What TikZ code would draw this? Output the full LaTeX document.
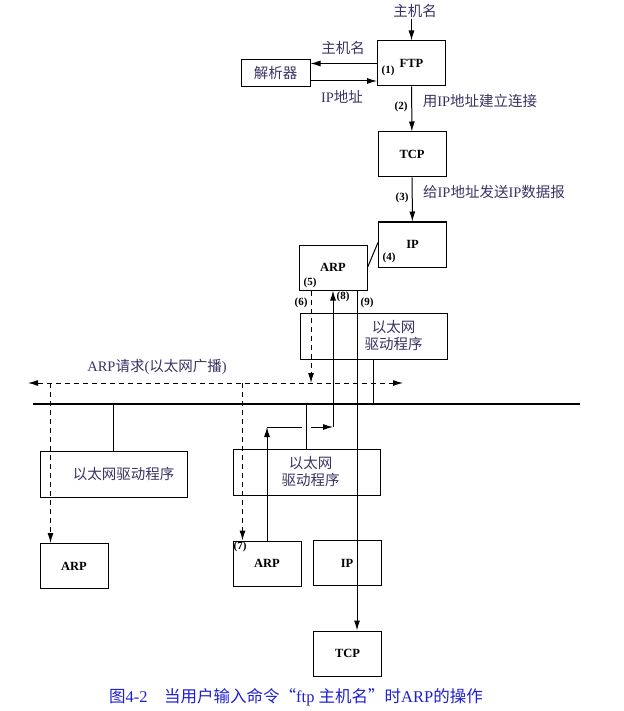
\documentclass[tikz,border=0pt]{standalone}
\usepackage{fontspec}
\setmainfont{Liberation Serif}
\newfontfamily\cjkfont{Noto Sans CJK SC}
\usepackage{tikz}
\usetikzlibrary{positioning,arrows.meta}
\newcommand{\zh}[1]{{\cjkfont #1}}
\definecolor{labelc}{RGB}{60,50,100}
\definecolor{capc}{RGB}{30,30,210}
\tikzset{
  box/.style={draw,line width=1pt,minimum width=68pt,minimum height=45pt,inner sep=0pt,
    font=\bfseries\fontsize{12.5}{14}\selectfont},
  drvbox/.style={box,minimum width=147pt,minimum height=46pt},
  lbl/.style={text=labelc,inner sep=1pt,align=center,font=\fontsize{14.5}{17}\selectfont},
  num/.style={inner sep=1pt,font=\bfseries\fontsize{11}{13}\selectfont},
  tip/.tip={Latex[length=10pt,width=6pt]},
  arr/.style={line width=1pt,-tip},
  dasharr/.style={arr,dash pattern=on 5pt off 4pt},
  bus/.style={line width=2.8pt}
}

\begin{document}
\begin{tikzpicture}[x=1pt,y=-1pt]
  \useasboundingbox (0,0) rectangle (623,711);

  % sending host
  \node[box] (ftp) at (411.5,63.5) {FTP};
  \node[box,minimum width=69pt,minimum height=27pt] (res) at (275.5,73.5) {};
  \node[lbl] at (res) {\zh{解析器}};
  \node[box] (tcpA) at (412,154.5) {TCP};
  \node[box] (ipA) at (412.5,244.5) {IP};
  \node[box] (arpA) at (333,267.5) {ARP};
  \node[drvbox] (drvA) at (373.5,336) {};
  \node[lbl] at ([xshift=20pt]drvA.center) {\zh{以太网}\\\zh{驱动程序}};

  % other hosts on the cable
  \node[drvbox] (drvB) at (113.5,474) {};
  \node[lbl] at ([xshift=10pt]drvB.center) {\zh{以太网驱动程序}};
  \node[box] (arpB) at (74,566) {ARP};
  \node[drvbox] (drvC) at (306.5,472) {};
  \node[lbl] at ([xshift=4pt]drvC.center) {\zh{以太网}\\\zh{驱动程序}};
  \node[box] (arpC) at (267,563.5) {ARP};
  \node[box] (ipC) at (347,563) {IP};
  \node[box] (tcpC) at (347.5,653.5) {TCP};

  \coordinate (busL) at (33,404);
  \coordinate (busR) at (580,404);
  \coordinate (bcL) at (28,383);
  \coordinate (bcR) at (403,383);
  \coordinate (rep) at (0,427);

  % FTP -> TCP -> IP
  \node[lbl] (host) at (415,11) {\zh{主机名}};
  \draw[arr] (host.south -| ftp) -- (ftp);
  \draw[arr] (ftp.west) -- (ftp.west -| res.east);
  \draw[arr] ([yshift=-7.5pt]res.east) -- ([yshift=-7.5pt]res.east -| ftp.west);
  \node[lbl] at (343,48) {\zh{主机名}};
  \node[lbl] at (342,97) {IP\zh{地址}};
  \node[num] at (388,71) {(1)};
  \draw[arr] (ftp) -- (tcpA);
  \node[num] at (401,107) {(2)};
  \node[lbl] at (480,101) {\zh{用}IP\zh{地址建立连接}};
  \draw[arr] (tcpA) -- (ipA);
  \node[num] at (402,198) {(3)};
  \node[lbl] at (494,192) {\zh{给}IP\zh{地址发送}IP\zh{数据报}};
  \node[num] at (389,258) {(4)};
  \draw[line width=1pt] (arpA.east) -- ([yshift=2pt]ipA.west);
  \node[num] at (310,283) {(5)};

  % cable
  \draw[bus] (busL) -- (busR);
  \draw[line width=1pt] (drvA.south) -- (drvA.south |- busL);
  \draw[line width=1pt] (drvB.north |- busL) -- (drvB.north);
  \draw[line width=1pt] (drvC.north |- busL) -- (drvC.north);

  % ARP request broadcast
  \draw[dasharr] ([xshift=-22pt]arpA.south) -- ([xshift=-22pt]arpA.south |- bcL);
  \node[num] at (301,303) {(6)};
  \draw[dasharr,tip-tip] (bcL) -- (bcR);
  \node[lbl] at (157,367) {ARP\zh{请求}(\zh{以太网广播})};
  \draw[dasharr] ([xshift=11pt]arpB.north west |- bcL) -- ([xshift=11pt]arpB.north west);
  \draw[dasharr] ([xshift=10pt]arpC.north west |- bcL) -- ([xshift=10pt]arpC.north west);
  \node[num,anchor=north west] at (arpC.north west) {(7)};

  % ARP reply
  \draw[arr] (arpC.north) -- (arpC.north |- rep);
  \draw[line width=1pt] (arpC.north |- rep) -- ([xshift=-4.5pt]drvC.north |- rep);
  \draw[arr] ([xshift=4.5pt]drvC.north |- rep) -- (arpA.south |- rep);
  \draw[arr] (arpA.south |- rep) -- (arpA.south);
  \node[num] at (343,297) {(8)};

  % IP datagram
  \draw[arr] ([xshift=24pt]arpA.south) -- ([xshift=24pt]arpA.south |- tcpC.north);
  \node[num] at (367,303) {(9)};

  \node[text=capc,font=\fontsize{16.5}{19}\selectfont] at (296,697)
    {\zh{图}4-2\quad\zh{当用户输入命令“}ftp \zh{主机名”时}ARP\zh{的操作}};
\end{tikzpicture}
\end{document}
